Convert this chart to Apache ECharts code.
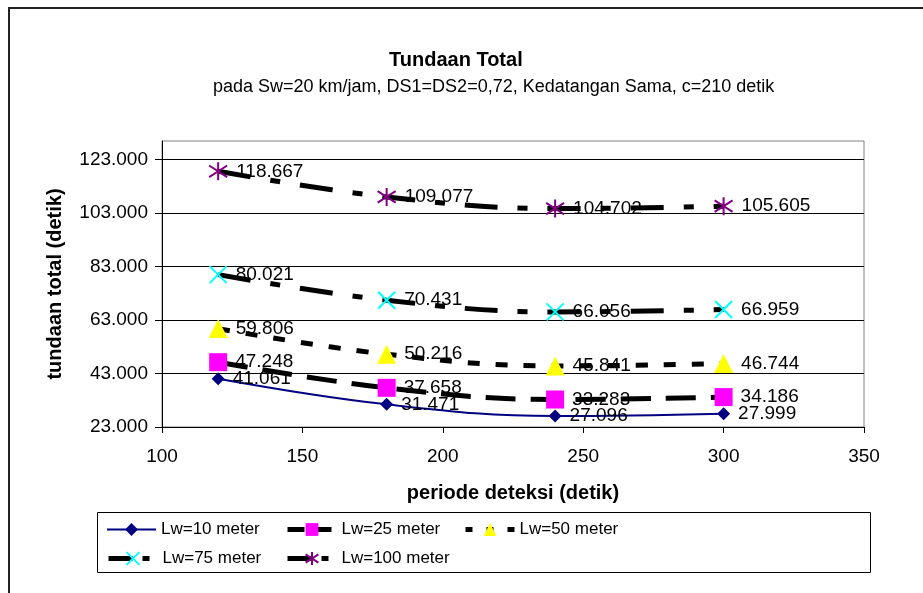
<!DOCTYPE html>
<html><head><meta charset="utf-8">
<script src="https://cdn.jsdelivr.net/npm/echarts@6/dist/echarts.min.js"></script>
<style>html,body{margin:0;padding:0;background:#fff}#c{width:923px;height:593px}</style>
</head><body><div id="c"></div>
<script>
const xValues = [120, 180, 240, 300];
const lw10 = [41.061, 31.471, 27.096, 27.999];
const lw25 = [47.248, 37.658, 33.283, 34.186];
const lw50 = [59.806, 50.216, 45.841, 46.744];
const lw75 = [80.021, 70.431, 66.056, 66.959];
const lw100 = [118.667, 109.077, 104.702, 105.605];
const seriesNames = ['Lw=10 meter', 'Lw=25 meter', 'Lw=50 meter', 'Lw=75 meter', 'Lw=100 meter'];
const yTicks = [23, 43, 63, 83, 103, 123];
const titleText = 'Tundaan Total';
const subtitleText = 'pada Sw=20 km/jam, DS1=DS2=0,72, Kedatangan Sama, c=210 detik';
const xName = 'periode deteksi (detik)';
const yName = 'tundaan total (detik)';

const FF = '"Liberation Sans", Arial, sans-serif';
const FS = 19;

const lineStyles = [
  { color: '#000080', width: 2, type: 'solid' },
  { color: '#000', width: 5, type: [30, 15] },
  { color: '#000', width: 5, type: [12, 16] },
  { color: '#000', width: 5, type: [33, 20, 10, 20] },
  { color: '#000', width: 5, type: [33, 20, 10, 20] }
];

function mk(name, vals, sym, symSize, lineStyle, itemStyle) {
  return {
    name: name, type: 'line',
    data: xValues.map((x, i) => [x, vals[i]]),
    smooth: 0.4,
    symbol: sym, symbolSize: symSize,
    lineStyle: lineStyle,
    itemStyle: itemStyle,
    label: {
      show: true, position: 'right', distance: 8,
      formatter: p => p.value[1].toFixed(3),
      fontSize: FS, fontFamily: FF, color: '#000'
    },
    emphasis: { disabled: true },
    animation: false
  };
}

const asterisk = 'path://M5,0L5,10M0.7,1.8L9.3,8.2M0.7,8.2L9.3,1.8';
const cross = 'path://M0,0L10,10M10,0L0,10';

const series = [
  mk(seriesNames[0], lw10, 'diamond', 13, lineStyles[0], { color: '#000080' }),
  mk(seriesNames[1], lw25, 'rect', 18, lineStyles[1], { color: '#ff00ff' }),
  mk(seriesNames[2], lw50, 'triangle', 19, lineStyles[2], { color: '#ffff00' }),
  mk(seriesNames[3], lw75, cross, 17, lineStyles[3], { color: '#00ffff', borderColor: '#00ffff', borderWidth: 2 }),
  mk(seriesNames[4], lw100, asterisk, 18, lineStyles[4], { color: '#800080', borderColor: '#800080', borderWidth: 2 })
];

const legendLine = [
  { color: '#000080', width: 2, type: 'solid' },
  { color: '#000', width: 5, type: [17, 10] },
  { color: '#000', width: 5, type: [7, 14] },
  { color: '#000', width: 5, type: [24, 10, 7, 10] },
  { color: '#000', width: 5, type: [24, 10, 7, 10] }
];
const legendPos = [[106, 521], [285, 521], [463, 521], [106, 550], [285, 550]];
const legends = seriesNames.map((n, i) => ({
  data: [{ name: n, lineStyle: legendLine[i] }], left: legendPos[i][0], top: legendPos[i][1],
  itemWidth: 49, itemHeight: 16, padding: 0, selectedMode: false,
  textStyle: { fontSize: 17, fontFamily: FF, color: '#000' }
}));

const chart = echarts.init(document.getElementById('c'), null, { renderer: 'canvas' });
chart.setOption({
  animation: false,
  backgroundColor: '#fff',
  title: [
    { text: titleText, left: 389, top: 50, padding: 0,
      textStyle: { fontSize: 20, fontWeight: 'bold', fontFamily: FF, color: '#000' } },
    { text: subtitleText, left: 213, top: 78, padding: 0,
      textStyle: { fontSize: 18, fontWeight: 'normal', fontFamily: FF, color: '#000' } }
  ],
  grid: { left: 162, top: 141, right: 59, bottom: 166, show: true, borderColor: '#808080', borderWidth: 1, containLabel: false },
  xAxis: {
    type: 'value', min: 100, max: 350, interval: 50,
    axisLine: { lineStyle: { color: '#000', width: 1 } },
    axisTick: { show: true, inside: false, length: 6, lineStyle: { color: '#000' } },
    axisLabel: { fontSize: FS, fontFamily: FF, color: '#000', margin: 20 },
    splitLine: { show: false },
    name: xName, nameLocation: 'middle', nameGap: 56,
    nameTextStyle: { fontSize: 20, fontWeight: 'bold', fontFamily: FF, color: '#000' }
  },
  yAxis: {
    type: 'value', min: 23, max: 130,
    axisLine: { show: true, lineStyle: { color: '#000', width: 1 } },
    axisTick: { show: true, inside: false, length: 7, lineStyle: { color: '#000' }, customValues: yTicks },
    axisLabel: { fontSize: FS, fontFamily: FF, color: '#000', margin: 14, customValues: yTicks,
      formatter: v => Number(v).toFixed(3) },
    splitLine: { show: true, lineStyle: { color: '#000', width: 1 } },
    name: yName, nameLocation: 'middle', nameGap: 97,
    nameTextStyle: { fontSize: 20, fontWeight: 'bold', fontFamily: FF, color: '#000' }
  },
  legend: legends,
  graphic: [
    { type: 'rect', shape: { x: 9, y: 8, width: 1000, height: 1000 }, style: { fill: 'none', stroke: '#222', lineWidth: 2 }, silent: true, z: 100 },
    { type: 'rect', shape: { x: 97.5, y: 512.5, width: 773, height: 60 }, style: { fill: 'none', stroke: '#000', lineWidth: 1 }, silent: true, z: 100 }
  ],
  series: series
});
</script></body></html>
